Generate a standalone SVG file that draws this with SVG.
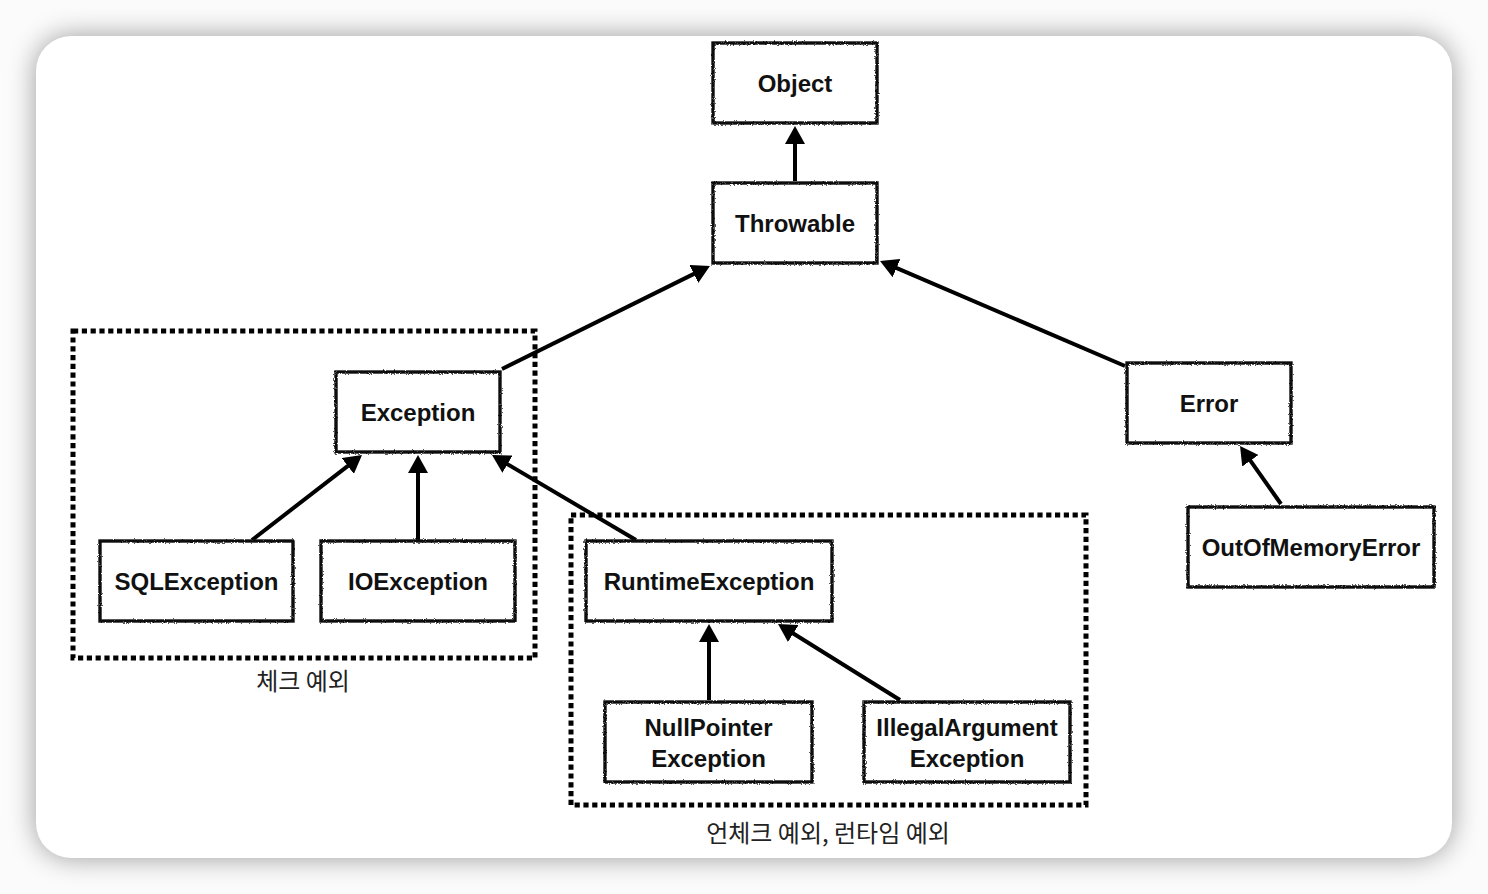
<svg xmlns="http://www.w3.org/2000/svg" width="1488" height="894" viewBox="0 0 1488 894">
  <defs>
    <filter id="shadow" x="-10%" y="-10%" width="120%" height="120%">
      <feGaussianBlur stdDeviation="14"/>
    </filter>
    <filter id="rough" x="-5%" y="-5%" width="110%" height="110%">
      <feTurbulence type="fractalNoise" baseFrequency="0.9" numOctaves="1" seed="3" result="n"/>
      <feDisplacementMap in="SourceGraphic" in2="n" scale="3" xChannelSelector="R" yChannelSelector="G"/>
    </filter>
    <marker id="arrow" viewBox="0 0 18 20" refX="8" refY="10" markerWidth="18" markerHeight="20" markerUnits="userSpaceOnUse" orient="auto">
      <path d="M0,0 L18,10 L0,20 Z" fill="#000"/>
    </marker>
    <style>
      .box { fill: #fff; stroke: #111; stroke-width: 3.4; filter: url(#rough); }
      .lbl { font-family: "Liberation Sans", Arial, sans-serif; font-weight: bold; font-size: 24px; fill: #111; text-anchor: middle; }
      .grp { fill: none; stroke: #000; stroke-width: 5; stroke-dasharray: 5.2 3.6; }
      .kor { font-family: "Noto Sans CJK KR", "Noto Sans", sans-serif; font-size: 24px; fill: #222; text-anchor: middle; }
      .con { stroke: #000; stroke-width: 4; fill: none; marker-end: url(#arrow); }
    </style>
  </defs>

  <rect x="0" y="0" width="1488" height="894" fill="#fbfbfb"/>
  <rect x="36" y="36" width="1416" height="822" rx="35" fill="#000" opacity="0.38" filter="url(#shadow)"/>
  <rect x="36" y="36" width="1416" height="822" rx="35" fill="#fff"/>

  <g id="group-checked">
    <rect class="grp" x="73" y="331" width="462" height="327"/>
    <text class="kor" x="303" y="690">체크 예외</text>
  </g>
  <g id="group-unchecked">
    <rect class="grp" x="571" y="515" width="515" height="290"/>
    <text class="kor" x="828" y="842">언체크 예외, 런타임 예외</text>
  </g>

  <g id="connectors">
    <line class="con" x1="795" y1="181" x2="795" y2="136"/>
    <line class="con" x1="502" y1="369" x2="701" y2="270.4"/>
    <line class="con" x1="1125" y1="366" x2="889.2" y2="264.9"/>
    <line class="con" x1="252" y1="540" x2="354.1" y2="461.1"/>
    <line class="con" x1="418" y1="540" x2="418" y2="465"/>
    <line class="con" x1="636" y1="540" x2="500.6" y2="460.1"/>
    <line class="con" x1="709" y1="700" x2="709" y2="634"/>
    <line class="con" x1="900" y1="700" x2="786.5" y2="629.3"/>
    <line class="con" x1="1281" y1="504" x2="1245.8" y2="454.2"/>
  </g>

  <g id="node-object">
    <rect class="box" x="713" y="43" width="164" height="80"/>
    <text class="lbl" x="795" y="92">Object</text>
  </g>
  <g id="node-throwable">
    <rect class="box" x="713" y="183" width="164" height="80"/>
    <text class="lbl" x="795" y="232">Throwable</text>
  </g>
  <g id="node-exception">
    <rect class="box" x="336" y="372" width="164" height="80"/>
    <text class="lbl" x="418" y="421">Exception</text>
  </g>
  <g id="node-error">
    <rect class="box" x="1127" y="363" width="164" height="80"/>
    <text class="lbl" x="1209" y="412">Error</text>
  </g>
  <g id="node-sqlexception">
    <rect class="box" x="100" y="541" width="193" height="80"/>
    <text class="lbl" x="196.5" y="590">SQLException</text>
  </g>
  <g id="node-ioexception">
    <rect class="box" x="321" y="541" width="194" height="80"/>
    <text class="lbl" x="418" y="590">IOException</text>
  </g>
  <g id="node-runtimeexception">
    <rect class="box" x="586" y="541" width="246" height="80"/>
    <text class="lbl" x="709" y="590">RuntimeException</text>
  </g>
  <g id="node-nullpointer">
    <rect class="box" x="605" y="702" width="207" height="80"/>
    <text class="lbl" x="708.5" y="736">NullPointer</text>
    <text class="lbl" x="708.5" y="767">Exception</text>
  </g>
  <g id="node-illegalargument">
    <rect class="box" x="864" y="702" width="206" height="80"/>
    <text class="lbl" x="967" y="736">IllegalArgument</text>
    <text class="lbl" x="967" y="767">Exception</text>
  </g>
  <g id="node-outofmemory">
    <rect class="box" x="1188" y="507" width="246" height="80"/>
    <text class="lbl" x="1311" y="556">OutOfMemoryError</text>
  </g>
</svg>
